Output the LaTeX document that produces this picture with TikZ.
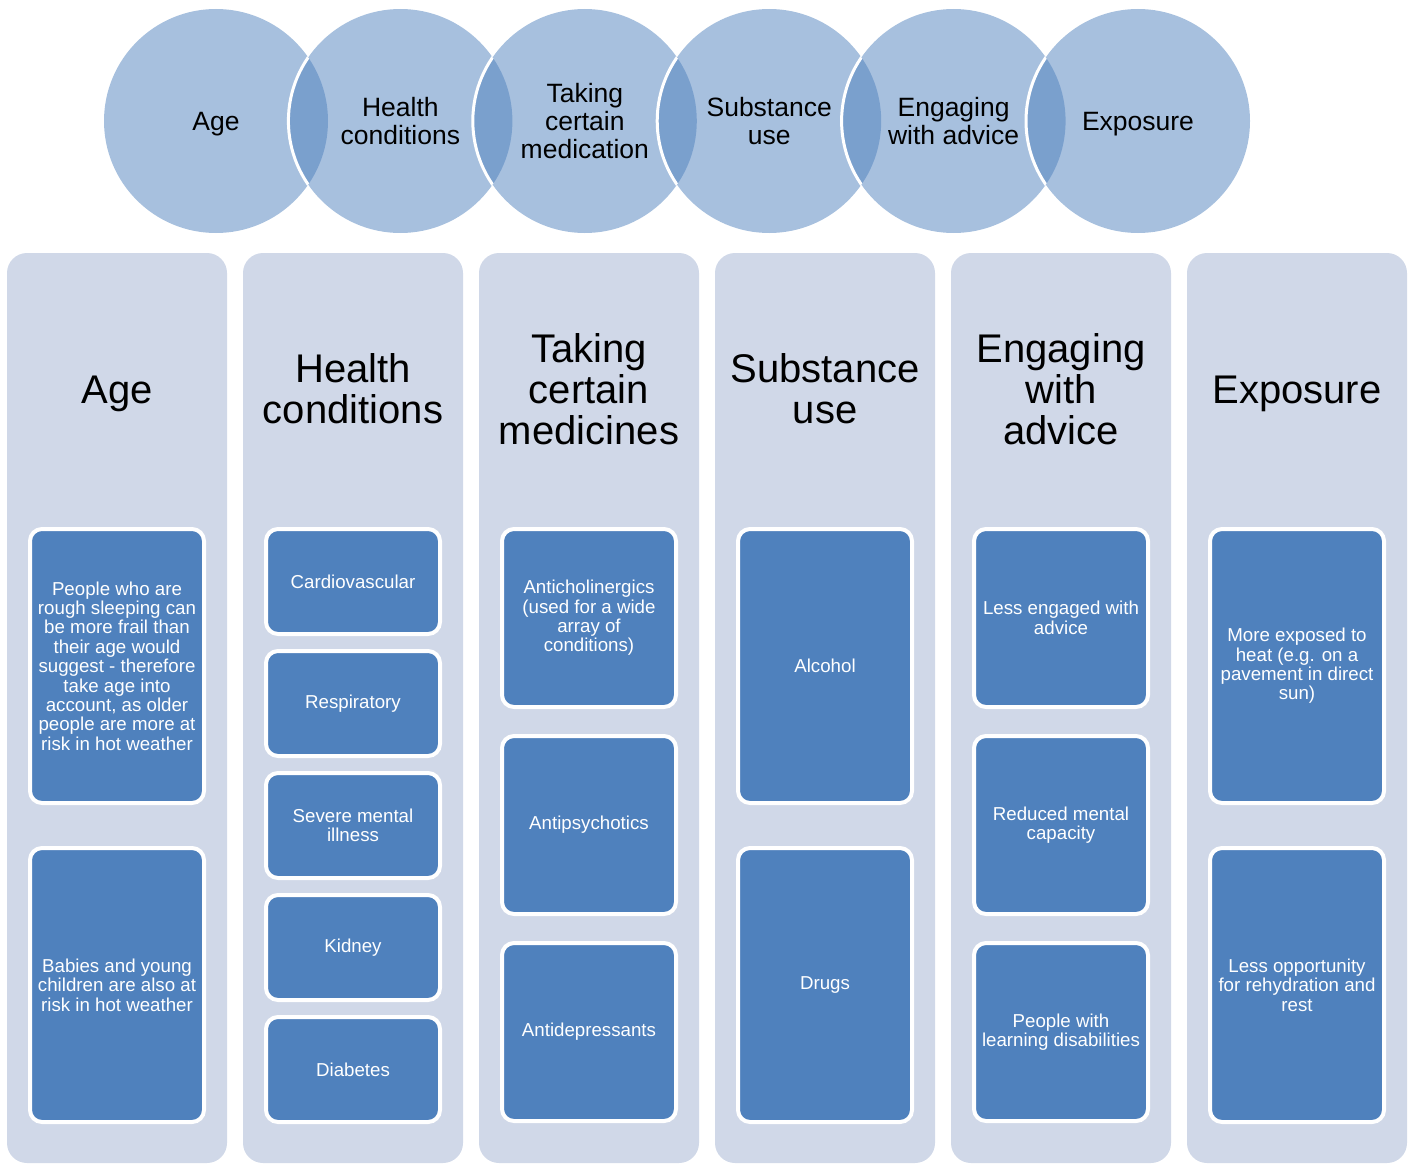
\documentclass[tikz,border=0pt]{standalone}
\usepackage{fontspec}
\setmainfont{Liberation Sans}
\usetikzlibrary{positioning}
\definecolor{accent}{HTML}{4F81BD}
\definecolor{panelblue}{HTML}{D0D8E8}
\tikzset{
	factor/.style={circle, minimum size=224pt, inner sep=0pt, fill=accent, fill opacity=0.5},
	factor label/.style={align=center, font=\fontsize{26.5}{28}\selectfont},
	panel/.style={fill=panelblue, rounded corners=20pt, minimum width=220pt, minimum height=910pt, inner sep=0pt},
	heading/.style={align=center, font=\fontsize{40}{41}\selectfont},
	item/.style={draw=white, line width=4pt, fill=accent, rounded corners=12pt, minimum width=174pt, inner sep=0pt, text=white, align=center, font=\fontsize{18.7}{19.4}\selectfont},
}

\begin{document}
\begin{tikzpicture}[x=1pt, y=-1pt]
	\useasboundingbox (0,0) rectangle (1411,1164);
	% factor circles
	\foreach \txt/\dy [count=\i] in {Age/-3, {Health\\conditions}/0, {Taking\\certain\\medication}/0, {Substance\\use}/0, {Engaging\\with advice}/0, Exposure/-3} {
		\node [factor] (c\i) at ({216+184.4*(\i-1)}, 121) {};
		\node [factor label] (t\i) at ([yshift=\dy pt] c\i.center) {\txt};
	}
	\foreach \i [remember=\i as \j (initially 1)] in {2,...,6} {
		\begin{scope}
			\clip (c\j.center) circle [radius=112pt];
			\draw [white, line width=3pt] (c\i.center) circle [radius=112pt];
		\end{scope}
	}
	% columns
	\foreach \i in {1,...,6}
	\node [panel] (p\i) at ({117+236*(\i-1)}, 708) {};
	\node [heading] (h1) at (117, 394) {Age};
	\node [heading] (h2) at (353, 389) {Health\\conditions};
	\node [heading] (h3) at (589, 389) {Taking\\certain\\medicines};
	\node [heading] (h4) at (825, 389) {Substance\\use};
	\node [heading] (h5) at (1061, 389) {Engaging\\with\\advice};
	\node [heading] (h6) at (1297, 394) {Exposure};
	% age
	\node [item, minimum height=274pt] (a1) at (117, 666) {People who are\\rough sleeping can\\be more frail than\\their age would\\suggest - therefore\\take age into\\account, as older\\people are more at\\risk in hot weather};
	\node [item, minimum height=274pt, below=41pt of a1] (a2) {Babies and young\\children are also at\\risk in hot weather};
	% health conditions
	\node [item, minimum height=105pt] (b1) at (353, 581.5) {Cardiovascular};
	\node [item, minimum height=105pt, below=13pt of b1] (b2) {Respiratory};
	\node [item, minimum height=105pt, below=13pt of b2] (b3) {Severe mental\\illness};
	\node [item, minimum height=105pt, below=13pt of b3] (b4) {Kidney};
	\node [item, minimum height=105pt, below=13pt of b4] (b5) {Diabetes};
	% medicines
	\node [item, minimum height=178pt] (m1) at (589, 618) {Anticholinergics\\(used for a wide\\array of\\conditions)};
	\node [item, minimum height=178pt, below=25pt of m1] (m2) {Antipsychotics};
	\node [item, minimum height=178pt, below=25pt of m2] (m3) {Antidepressants};
	% substance use
	\node [item, minimum height=274pt] (s1) at (825, 666) {Alcohol};
	\node [item, minimum height=274pt, below=41pt of s1] (s2) {Drugs};
	% engaging with advice
	\node [item, minimum height=178pt] (e1) at (1061, 618) {Less engaged with\\advice};
	\node [item, minimum height=178pt, below=25pt of e1] (e2) {Reduced mental\\capacity};
	\node [item, minimum height=178pt, below=25pt of e2] (e3) {People with\\learning disabilities};
	% exposure
	\node [item, minimum height=274pt] (x1) at (1297, 666) {More exposed to\\heat (e.g. on a\\pavement in direct\\sun)};
	\node [item, minimum height=274pt, below=41pt of x1] (x2) {Less opportunity\\for rehydration and\\rest};
\end{tikzpicture}
\end{document}
